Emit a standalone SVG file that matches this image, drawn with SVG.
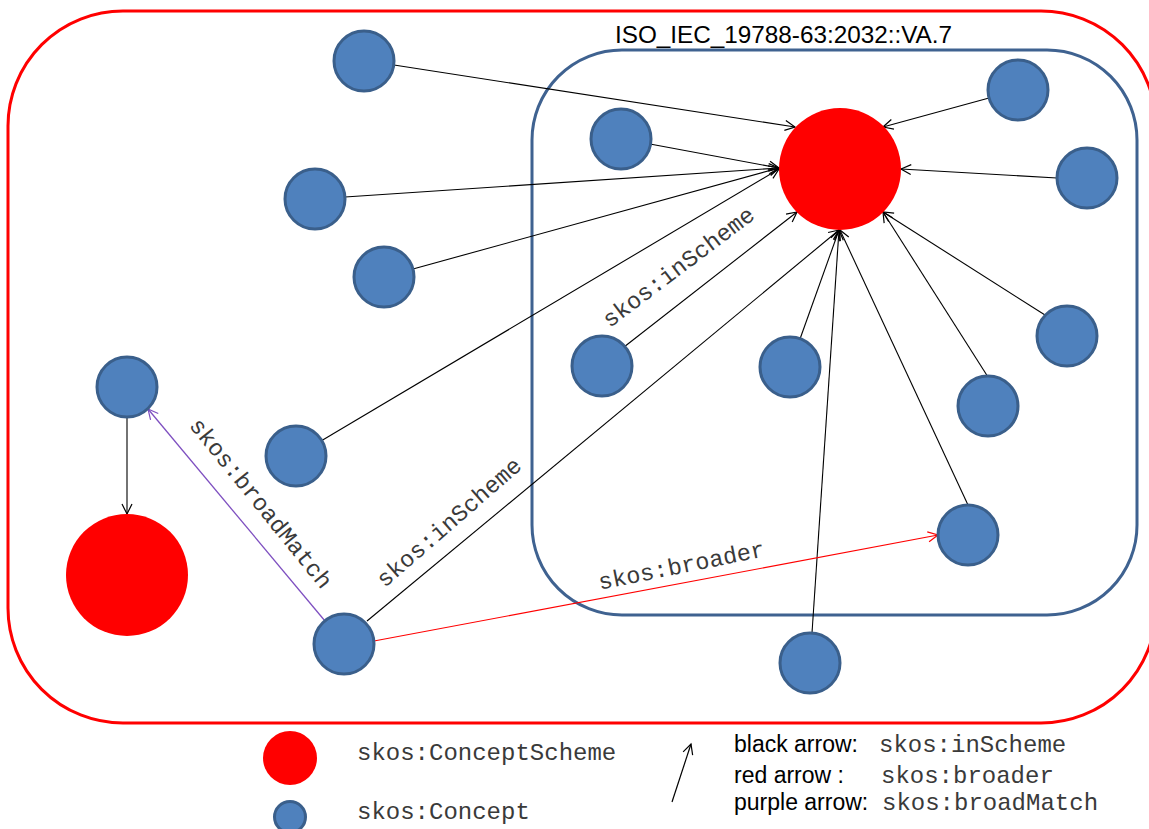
<svg xmlns="http://www.w3.org/2000/svg" width="1149" height="829" viewBox="0 0 1149 829">
  <defs>
    <marker id="arrowBlack" markerUnits="userSpaceOnUse" markerWidth="14" markerHeight="14" refX="11" refY="6" orient="auto">
      <path d="M1,1 L11,6 L1,11" fill="none" stroke="#000" stroke-width="1.2"/>
    </marker>
    <marker id="arrowRed" markerUnits="userSpaceOnUse" markerWidth="14" markerHeight="14" refX="11" refY="6" orient="auto">
      <path d="M1,1 L11,6 L1,11" fill="none" stroke="#ff0000" stroke-width="1.2"/>
    </marker>
    <marker id="arrowPurple" markerUnits="userSpaceOnUse" markerWidth="14" markerHeight="14" refX="11" refY="6" orient="auto">
      <path d="M1,1 L11,6 L1,11" fill="none" stroke="#7e4fc0" stroke-width="1.2"/>
    </marker>
  </defs>
  <style>
    .concept { fill: #4f81bd; stroke: #3a5f8b; stroke-width: 3; }
    .scheme { fill: #ff0000; }
    .edge { stroke: #000; stroke-width: 1.1; fill: none; marker-end: url(#arrowBlack); }
    .broader { stroke: #ff0000; stroke-width: 1.1; fill: none; marker-end: url(#arrowRed); }
    .match { stroke: #7e4fc0; stroke-width: 1.3; fill: none; marker-end: url(#arrowPurple); }
    .mono { font-family: "Liberation Mono", "Courier New", monospace; font-size: 23.5px; fill: #3a3a3a; }
    .legendMono { font-family: "Liberation Mono", "Courier New", monospace; font-size: 24px; fill: #3a3a3a; }
    .sans { font-family: "Liberation Sans", Arial, sans-serif; font-size: 23px; fill: #000; }
  </style>

  <rect id="white-bg" x="0" y="0" width="1149" height="829" fill="#fff"/>

  <!-- outer boundary -->
  <rect id="outer-boundary" x="8" y="11" width="1148" height="712" rx="115" ry="115" fill="none" stroke="#ff0000" stroke-width="3"/>

  <!-- vocabulary boundary -->
  <g id="vocabulary">
    <rect x="532" y="50" width="605" height="565" rx="90" ry="90" fill="none" stroke="#3f6290" stroke-width="3"/>
    <text x="615" y="43" font-family="Liberation Sans, Arial, sans-serif" font-size="24" fill="#000" textLength="337" lengthAdjust="spacingAndGlyphs">ISO_IEC_19788-63:2032::VA.7</text>
  </g>

  <!-- connectors -->
  <g id="connectors">
    <line class="edge" x1="394" y1="65" x2="795" y2="127"/>
    <line class="edge" x1="989" y1="98" x2="883" y2="127"/>
    <line class="edge" x1="1057" y1="178" x2="901" y2="169"/>
    <line class="edge" x1="650" y1="144" x2="779" y2="168"/>
    <line class="edge" x1="345" y1="197" x2="779" y2="168"/>
    <line class="edge" x1="413" y1="269" x2="779" y2="168"/>
    <line class="edge" x1="624" y1="347" x2="797" y2="212"/>
    <line class="edge" x1="321" y1="441" x2="779" y2="169"/>
    <line class="edge" x1="800" y1="339" x2="839" y2="230"/>
    <line class="edge" x1="367" y1="621" x2="839" y2="230"/>
    <line class="edge" x1="812" y1="633" x2="839" y2="230"/>
    <line class="edge" x1="968" y1="505" x2="840" y2="230"/>
    <line class="edge" x1="1045" y1="315" x2="883" y2="212"/>
    <line class="edge" x1="988" y1="377" x2="883" y2="212"/>
    <line class="edge" x1="127" y1="418" x2="127" y2="514"/>
    <line class="broader" x1="374" y1="641" x2="938" y2="535"/>
    <line class="match" x1="325" y1="621" x2="148" y2="409"/>

    <text class="mono" text-anchor="middle" transform="translate(683,273) rotate(-37)">skos:inScheme</text>
    <text class="mono" text-anchor="middle" transform="translate(454,528) rotate(-41)">skos:inScheme</text>
    <text class="mono" text-anchor="middle" transform="translate(683,573) rotate(-11.5)">skos:broader</text>
    <text class="mono" text-anchor="middle" transform="translate(255,508) rotate(51)">skos:broadMatch</text>
  </g>

  <!-- concept schemes -->
  <g id="scheme-main"><circle class="scheme" cx="840" cy="169" r="61"/></g>
  <g id="scheme-other"><circle class="scheme" cx="127" cy="575" r="61"/></g>

  <!-- concepts -->
  <g id="c01"><circle class="concept" cx="364" cy="61" r="30"/></g>
  <g id="c02"><circle class="concept" cx="621" cy="139" r="30"/></g>
  <g id="c03"><circle class="concept" cx="1018" cy="90" r="30"/></g>
  <g id="c04"><circle class="concept" cx="1087" cy="178" r="30"/></g>
  <g id="c05"><circle class="concept" cx="315" cy="199" r="30"/></g>
  <g id="c06"><circle class="concept" cx="384" cy="277" r="30"/></g>
  <g id="c07"><circle class="concept" cx="602" cy="366" r="30"/></g>
  <g id="c08"><circle class="concept" cx="790" cy="367" r="30"/></g>
  <g id="c09"><circle class="concept" cx="1067" cy="336" r="30"/></g>
  <g id="c10"><circle class="concept" cx="988" cy="406" r="30"/></g>
  <g id="c11"><circle class="concept" cx="127" cy="387" r="30"/></g>
  <g id="c12"><circle class="concept" cx="296" cy="456" r="30"/></g>
  <g id="c13"><circle class="concept" cx="968" cy="535" r="30"/></g>
  <g id="c14"><circle class="concept" cx="344" cy="644" r="30"/></g>
  <g id="c15"><circle class="concept" cx="810" cy="663" r="30"/></g>

  <!-- legend -->
  <g id="legend">
    <circle class="scheme" cx="290" cy="758" r="27"/>
    <text class="legendMono" x="357" y="760">skos:ConceptScheme</text>
    <circle class="concept" cx="290" cy="817" r="15.5"/>
    <text class="legendMono" x="357" y="819">skos:Concept</text>
    <line x1="672" y1="802" x2="691" y2="744" stroke="#000" stroke-width="1.2" marker-end="url(#arrowBlack)"/>
    <text class="sans" x="734" y="752">black arrow:</text>
    <text class="legendMono" x="879" y="752">skos:inScheme</text>
    <text class="sans" x="734" y="783">red arrow :</text>
    <text class="legendMono" x="881" y="783">skos:broader</text>
    <text class="sans" x="734" y="810">purple arrow:</text>
    <text class="legendMono" x="882" y="810">skos:broadMatch</text>
  </g>
</svg>
